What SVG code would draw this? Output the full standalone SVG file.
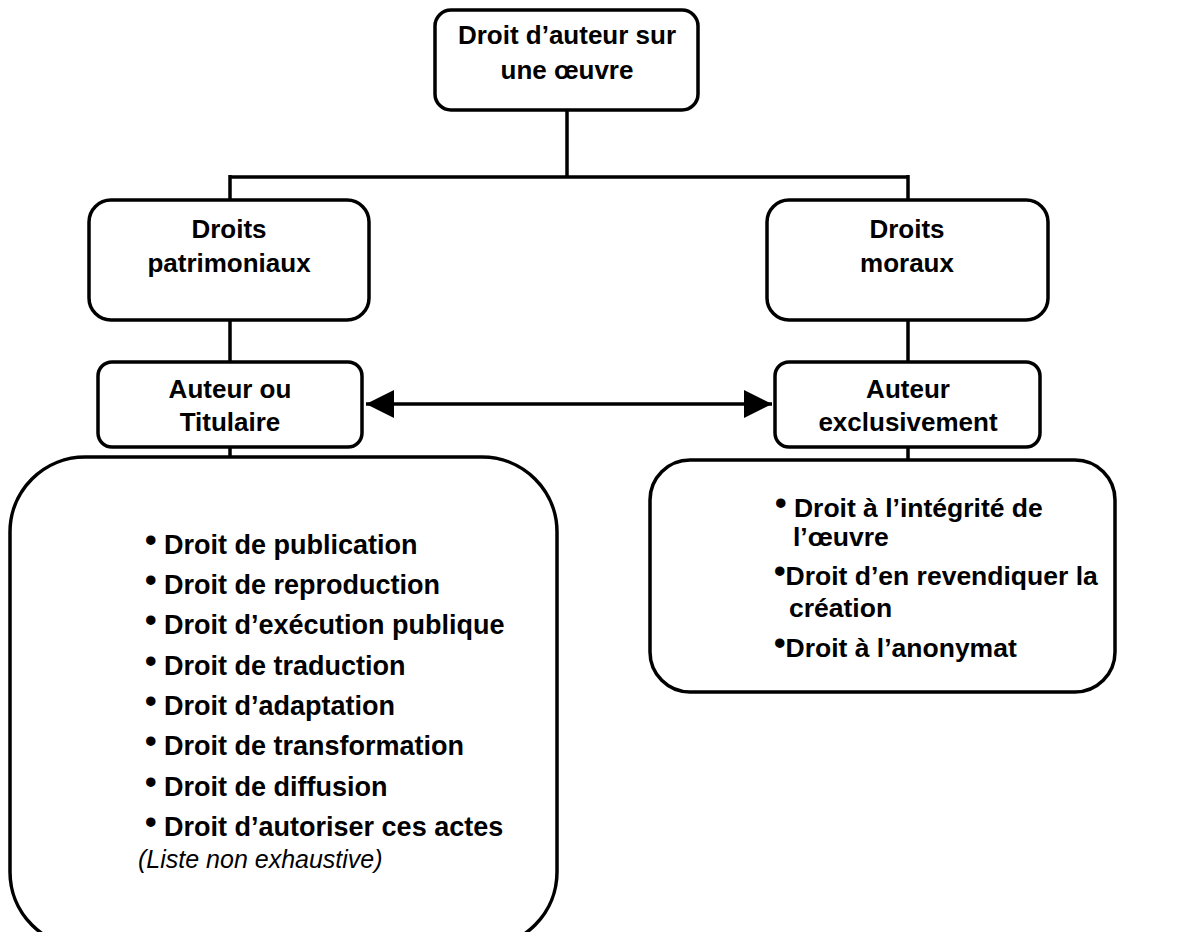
<svg xmlns="http://www.w3.org/2000/svg" width="1177" height="932" viewBox="0 0 1177 932">
<style>
.box{fill:#fff;stroke:#000;stroke-width:3.5}
.t{font-family:"Liberation Sans",Arial,sans-serif;font-weight:bold;font-size:26px;fill:#000;text-anchor:middle}
.li{font-family:"Liberation Sans",Arial,sans-serif;font-weight:bold;font-size:27px;fill:#000}
.lr{font-family:"Liberation Sans",Arial,sans-serif;font-weight:bold;font-size:26.5px;fill:#000}
.b{font-size:33px}
.it{font-family:"Liberation Sans",Arial,sans-serif;font-style:italic;font-size:25px;fill:#000}
.c{fill:none;stroke:#000;stroke-width:3.5}
</style>
<defs>
<marker id="ah" viewBox="0 0 10 10" refX="10" refY="5" markerWidth="8" markerHeight="8" markerUnits="strokeWidth" orient="auto-start-reverse">
<path d="M0,0 L10,5 L0,10 Z" fill="#000"/>
</marker>
</defs>
<rect width="1177" height="932" fill="#fff"/>
<g id="connectors">
<path class="c" d="M567,110 V177 M230,177 H908 M230,175 V200 M908,175 V200 M230,320 V362 M908,320 V362 M230,447 V457 M908,447 V460"/>
<line class="c" x1="366" y1="404" x2="772" y2="404" marker-start="url(#ah)" marker-end="url(#ah)"/>
</g>
<g id="root">
<rect class="box" x="435" y="10" width="263" height="100" rx="16"/>
<text class="t" x="567" y="44">Droit d’auteur sur</text>
<text class="t" x="567" y="79">une œuvre</text>
</g>
<g id="patrimoniaux">
<rect class="box" x="89" y="200" width="280" height="120" rx="22"/>
<text class="t" x="229" y="238">Droits</text>
<text class="t" x="229" y="272">patrimoniaux</text>
</g>
<g id="moraux">
<rect class="box" x="767" y="200" width="281" height="120" rx="22"/>
<text class="t" x="907" y="238">Droits</text>
<text class="t" x="907" y="272">moraux</text>
</g>
<g id="titulaire">
<rect class="box" x="98" y="362" width="264" height="85" rx="14"/>
<text class="t" x="230" y="398">Auteur ou</text>
<text class="t" x="230" y="431">Titulaire</text>
</g>
<g id="exclusivement">
<rect class="box" x="775" y="362" width="265" height="85" rx="14"/>
<text class="t" x="908" y="398">Auteur</text>
<text class="t" x="908" y="431">exclusivement</text>
</g>
<g id="liste-patrimoniaux">
<rect class="box" x="10" y="457" width="547" height="490" rx="75"/>
<text class="li" x="145" y="554"><tspan class="b" dy="-3">•</tspan><tspan dy="3"> Droit de publication</tspan></text>
<text class="li" x="145" y="594"><tspan class="b" dy="-3">•</tspan><tspan dy="3"> Droit de reproduction</tspan></text>
<text class="li" x="145" y="634"><tspan class="b" dy="-3">•</tspan><tspan dy="3"> Droit d’exécution publique</tspan></text>
<text class="li" x="145" y="675"><tspan class="b" dy="-3">•</tspan><tspan dy="3"> Droit de traduction</tspan></text>
<text class="li" x="145" y="715"><tspan class="b" dy="-3">•</tspan><tspan dy="3"> Droit d’adaptation</tspan></text>
<text class="li" x="145" y="755"><tspan class="b" dy="-3">•</tspan><tspan dy="3"> Droit de transformation</tspan></text>
<text class="li" x="145" y="796"><tspan class="b" dy="-3">•</tspan><tspan dy="3"> Droit de diffusion</tspan></text>
<text class="li" x="145" y="836"><tspan class="b" dy="-3">•</tspan><tspan dy="3"> Droit d’autoriser ces actes</tspan></text>
<text class="it" x="138" y="868">(Liste non exhaustive)</text>
</g>
<g id="liste-moraux">
<rect class="box" x="650" y="460" width="465" height="232" rx="40"/>
<text class="lr" x="775" y="517"><tspan class="b" dy="-3">•</tspan><tspan dy="3"> Droit à l’intégrité de</tspan></text>
<text class="lr" x="793" y="546">l’œuvre</text>
<text class="lr" x="774" y="585"><tspan class="b" dy="-3">•</tspan><tspan dy="3">Droit d’en revendiquer la</tspan></text>
<text class="lr" x="789" y="617">création</text>
<text class="lr" x="774" y="657"><tspan class="b" dy="-3">•</tspan><tspan dy="3">Droit à l’anonymat</tspan></text>
</g>
</svg>
